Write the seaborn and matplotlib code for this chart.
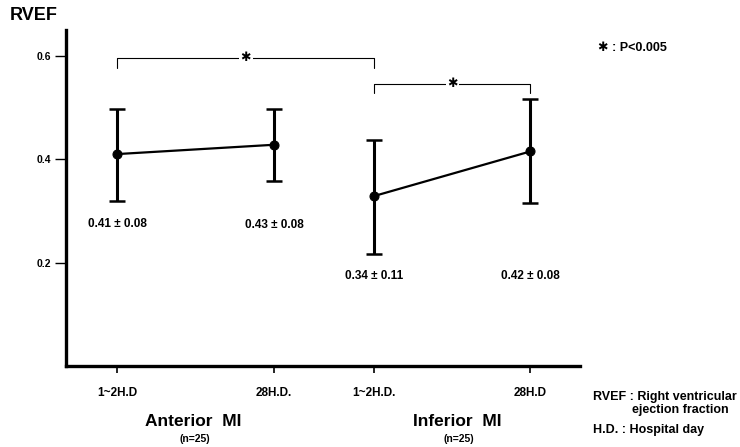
import pandas as pd
import seaborn as sns
import matplotlib.pyplot as plt

# values
groups = ['Anterior MI', 'Anterior MI', 'Inferior MI', 'Inferior MI']
xpos = [1.0, 4.05, 6.0, 9.03]
tick_labels = ['1~2H.D', '28H.D.', '1~2H.D.', '28H.D']
means = [0.41, 0.428, 0.329, 0.415]
err_lo = [0.09, 0.071, 0.112, 0.10]
err_hi = [0.088, 0.069, 0.109, 0.102]
value_labels = ['0.41 ± 0.08', '0.43 ± 0.08', '0.34 ± 0.11', '0.42 ± 0.08']

df = pd.DataFrame({'group': groups, 'x': xpos, 'rvef': means})

sns.set_style('white')
plt.rcParams['font.family'] = ['Liberation Sans', 'DejaVu Sans']
for k in ['text.color', 'axes.labelcolor', 'xtick.color', 'ytick.color', 'axes.edgecolor']:
    plt.rcParams[k] = 'black'

fig = plt.figure(figsize=(7.4, 4.47), dpi=100)
ax = fig.add_axes([0.0892, 0.181, 0.6946, 0.752])

sns.lineplot(data=df, x='x', y='rvef', units='group', estimator=None,
             color='black', linewidth=1.6, marker='o', markersize=6.5,
             markeredgecolor='black', legend=False, ax=ax)
ax.errorbar(xpos, means, yerr=[err_lo, err_hi], fmt='none', ecolor='black',
            elinewidth=2.2, capsize=6, capthick=1.8)

# value labels under the bars
label_y = [0.275, 0.273, 0.175, 0.175]
for x, y, t in zip(xpos, label_y, value_labels):
    ax.text(x, y, t, ha='center', va='center', fontsize=8.5, fontweight='bold')

# significance brackets
def bracket(x0, x1, y, drop):
    ax.plot([x0, x0, x1, x1], [y - drop, y, y, y - drop], color='black', lw=0.8)
    ax.text((x0 + x1) / 2, y, '✱', ha='center', va='center', fontsize=9,
            family=['DejaVu Sans'], bbox=dict(facecolor='white', edgecolor='none', pad=1))

bracket(xpos[0], xpos[2], 0.596, 0.02)
bracket(xpos[2], xpos[3], 0.546, 0.017)

ax.set_xlim(0, 10)
ax.set_ylim(0, 0.65)
ax.set_yticks([0.2, 0.4, 0.6])
ax.set_yticklabels(['0.2', '0.4', '0.6'], fontsize=7.5, fontweight='bold')
ax.set_xticks(xpos)
ax.set_xticklabels(tick_labels, fontsize=8.5, fontweight='bold')
ax.tick_params(axis='y', direction='out', length=8, width=1, left=True, pad=3)
ax.tick_params(axis='x', direction='out', length=5, width=1.2, bottom=True, pad=10)
ax.set_xlabel('')
ax.set_ylabel('')
sns.despine(ax=ax)
ax.spines['left'].set_linewidth(2.4)
ax.spines['bottom'].set_linewidth(2.4)

fig.text(10 / 740, 1 - 15 / 447, 'RVEF', fontsize=13, fontweight='bold', va='center')
fig.text(193 / 740, 1 - 421 / 447, 'Anterior  MI', fontsize=12.5, fontweight='bold',
         ha='center', va='center')
fig.text(195 / 740, 1 - 439 / 447, '(n=25)', fontsize=7.5, fontweight='bold',
         ha='center', va='center')
fig.text(457 / 740, 1 - 421 / 447, 'Inferior  MI', fontsize=12.5, fontweight='bold',
         ha='center', va='center')
fig.text(459 / 740, 1 - 439 / 447, '(n=25)', fontsize=7.5, fontweight='bold',
         ha='center', va='center')

fig.text(598 / 740, 1 - 48 / 447, '✱ : P<0.005', fontsize=9, fontweight='bold',
         va='center', family=['Liberation Sans', 'DejaVu Sans'])
fig.text(593 / 740, 1 - 397 / 447, 'RVEF : Right ventricular', fontsize=9,
         fontweight='bold', va='center')
fig.text(632 / 740, 1 - 410 / 447, 'ejection fraction', fontsize=9,
         fontweight='bold', va='center')
fig.text(593 / 740, 1 - 430 / 447, 'H.D. : Hospital day', fontsize=9,
         fontweight='bold', va='center')

plt.savefig('out.png', dpi=100)
